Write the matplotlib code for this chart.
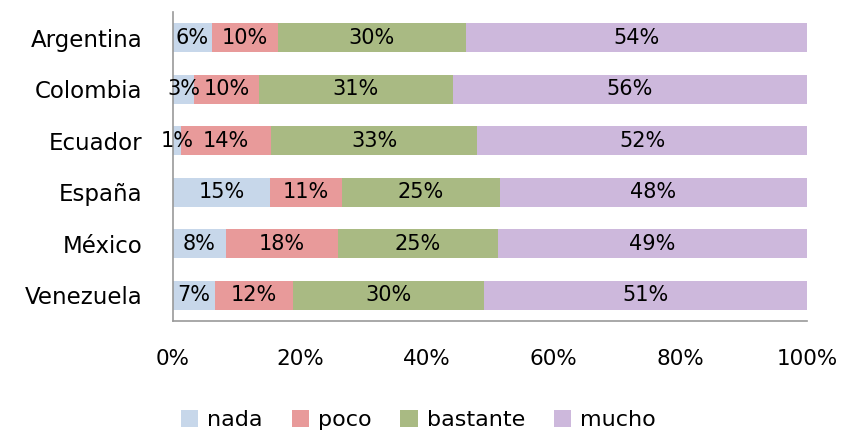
import numpy as np
import matplotlib
matplotlib.use("Agg")
import matplotlib.pyplot as plt

countries = ["Argentina", "Colombia", "Ecuador", "España", "México", "Venezuela"]
series = ["nada", "poco", "bastante", "mucho"]
nada = [6.1, 3.3, 1.3, 15.3, 8.3, 6.6]
poco = [10.4, 10.3, 14.2, 11.3, 17.7, 12.3]
bastante = [29.7, 30.5, 32.5, 24.9, 25.2, 30.2]
mucho = [53.8, 55.9, 52.0, 48.5, 48.8, 50.9]
labels = [
    ["6%", "3%", "1%", "15%", "8%", "7%"],
    ["10%", "10%", "14%", "11%", "18%", "12%"],
    ["30%", "31%", "33%", "25%", "25%", "30%"],
    ["54%", "56%", "52%", "48%", "49%", "51%"],
]
colors = ["#C7D7EA", "#E89A9A", "#A9BA83", "#CDB8DC"]

plt.rcParams['font.family'] = ['DejaVu Sans']

fig = plt.figure(figsize=(8.45, 4.36), dpi=100)
ax = fig.add_axes([173 / 845, 1 - 321 / 436, 634 / 845, 309 / 436])

y = np.arange(len(countries))
left = np.zeros(len(countries))
data = [nada, poco, bastante, mucho]
for i, vals in enumerate(data):
    vals = np.array(vals)
    bars = ax.barh(y, vals, left=left, height=0.57, color=colors[i], label=series[i])
    ax.bar_label(bars, labels=labels[i], label_type='center', fontsize=15, color='black')
    left += vals

ax.set_xlim(0, 100)
ax.set_ylim(len(countries) - 0.5, -0.5)
ax.set_yticks(y)
ax.set_yticklabels(countries, fontsize=16.5)
ax.set_xticks([0, 20, 40, 60, 80, 100])
ax.set_xticklabels(["0%", "20%", "40%", "60%", "80%", "100%"], fontsize=15.5)
ax.tick_params(axis='both', length=0)
ax.tick_params(axis='x', pad=20)
ax.tick_params(axis='y', pad=22)
for s in ['top', 'right']:
    ax.spines[s].set_visible(False)
for s in ['left', 'bottom']:
    ax.spines[s].set_color('#999999')
    ax.spines[s].set_linewidth(1.2)

fig.legend(loc='lower center', ncol=4, frameon=False, fontsize=16,
           bbox_to_anchor=(0.495, -0.032), handlelength=0.78, handleheight=0.78,
           handletextpad=0.4, columnspacing=1.3)

fig.savefig("out.png", dpi=100)
